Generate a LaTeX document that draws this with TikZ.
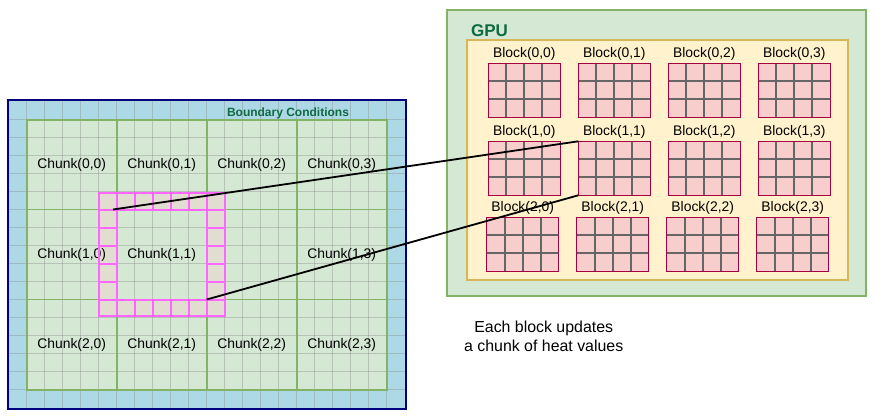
\documentclass[tikz,border=0pt]{standalone}
\usepackage{fontspec}
\setmainfont{Liberation Sans}
\definecolor{bluefill}{HTML}{ADD8E6}
\definecolor{navyline}{HTML}{000080}
\definecolor{gfill}{HTML}{D5E8D4}
\definecolor{gline}{HTML}{82B366}
\definecolor{yfill}{HTML}{FFF2CC}
\definecolor{yline}{HTML}{D6B656}
\definecolor{rfill}{HTML}{F8CECC}
\definecolor{rline}{HTML}{A50040}
\definecolor{halofill}{HTML}{E1DDD0}
\definecolor{haloline}{HTML}{FF66FF}
\definecolor{titlec}{HTML}{0F6B42}
\definecolor{cellc}{HTML}{666666}
\tikzset{
  gridline/.style={draw=gray, opacity=0.35, line width=1pt},
  chunkline/.style={draw=gline, line width=1.6pt},
  halofillst/.style={fill=halofill},
  halostroke/.style={draw=haloline, line width=2pt},
  chunkbox/.style={minimum width=90pt, minimum height=90pt, inner sep=0pt, outer sep=0pt, font=\fontsize{13.9}{16}\selectfont},
  blockbox/.style={fill=rfill, minimum width=72pt, minimum height=54pt, inner sep=0pt, outer sep=0pt, anchor=north west},
  cellline/.style={draw=cellc, line width=2pt},
  blockborder/.style={draw=rline, line width=1.4pt},
  blocklbl/.style={font=\fontsize{13.9}{16}\selectfont, inner sep=0pt},
  conn/.style={draw=black, line width=1.8pt},
  titlelbl/.style={text=titlec, font=\bfseries, inner sep=0pt}
}
\begin{document}
\begin{tikzpicture}[x=1pt,y=-1pt]
\useasboundingbox (0,0) rectangle (875,418);
% ---------- left: domain ----------
\fill[bluefill] (8,100) rectangle (406,409);
\fill[gfill] (26.7,119.5) rectangle (386.7,389.5);
\foreach \k in {0,...,20} \draw[gridline] (26.7+18*\k,100) -- (26.7+18*\k,409);
\foreach \k in {0,...,15} \draw[gridline] (8,119.5+18*\k) -- (406,119.5+18*\k);
\foreach \k in {1,2,3} \draw[chunkline] (26.7+90*\k,119.5) -- (26.7+90*\k,389.5);
\foreach \k in {1,2} \draw[chunkline] (26.7,119.5+90*\k) -- (386.7,119.5+90*\k);
\draw[gline, line width=2pt] (26.7,119.5) rectangle (386.7,389.5);
\draw[navyline, line width=2.5pt] (8,100) rectangle (406,409);
% halo ring: fills
\fill[halofillst] (98.7,193) rectangle (224.7,209.5);
\fill[halofillst] (98.7,299.5) rectangle (224.7,315.5);
\fill[halofillst] (98.7,209.5) rectangle (116.7,299.5);
\fill[halofillst] (206.7,209.5) rectangle (224.7,299.5);
% chunk labels
\foreach \r/\c in {0/0,0/1,0/2,0/3,1/0,1/1,1/3,2/0,2/1,2/2,2/3} {
  \node[chunkbox] (c\r\c) at (71.7+90*\c,164.5+90*\r) {Chunk(\r,\c)};
}
% halo ring: strokes
\foreach \i in {0,...,6} {
  \draw[halostroke] (98.7+18*\i,193) rectangle ++(18,16.5);
  \draw[halostroke] (98.7+18*\i,299.5) rectangle ++(18,16);
}
\foreach \j in {0,...,4} {
  \draw[halostroke] (98.7,209.5+18*\j) rectangle ++(18,18);
  \draw[halostroke] (206.7,209.5+18*\j) rectangle ++(18,18);
}
\node[titlelbl, font=\bfseries\fontsize{12}{14}\selectfont, anchor=base] (bc) at (288,116.6) {Boundary Conditions};
% ---------- right: GPU ----------
\draw[gline, fill=gfill, line width=2pt] (447.3,10) rectangle (866,295.7);
\node[titlelbl, font=\bfseries\fontsize{17}{20}\selectfont] (gpu) at (489.5,30.5) {GPU};
\draw[yline, fill=yfill, line width=2pt] (467.3,40) rectangle (848.3,280);
\foreach \r/\y/\xo in {0/63.3/488.3, 1/141.3/488.3, 2/217.3/486.7} \foreach \c in {0,...,3} {
  \node[blockbox] (b\r\c) at (\xo+90*\c,\y) {};
  \foreach \k in {1,2,3} \draw[cellline] ([xshift=18*\k pt]b\r\c.north west) -- ([xshift=18*\k pt]b\r\c.south west);
  \foreach \k in {1,2} \draw[cellline] ([yshift=-18*\k pt]b\r\c.north west) -- ([yshift=-18*\k pt]b\r\c.north east);
  \draw[blockborder] (b\r\c.north west) rectangle (b\r\c.south east);
}
\foreach \r in {0,1,2} \foreach \c in {0,...,3} {
  \node[blocklbl] (l\r\c) at ([yshift=9.5pt]b\r\c.north) {Block(\r,\c)};
}
\node[align=center, font=\fontsize{15.9}{19}\selectfont, inner sep=0pt] (note) at (543.7,336.2) {Each block updates\\a chunk of heat values};
% ---------- connectors ----------
\coordinate (h1) at (113,209.5);
\draw[conn] (h1) -- (b11.north west);
\draw[conn] (c11.south east) -- (b11.south west);
\end{tikzpicture}
\end{document}
